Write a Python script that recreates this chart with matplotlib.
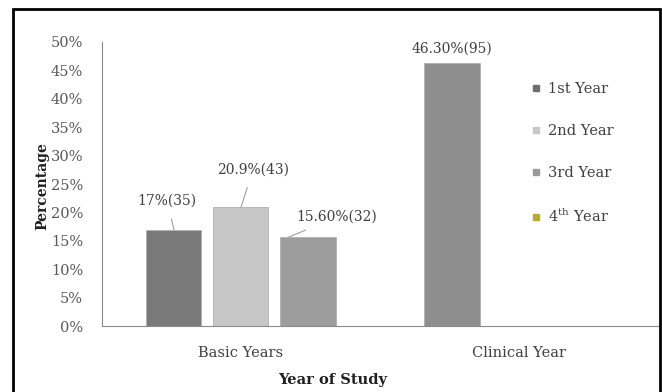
import matplotlib
matplotlib.use("Agg")
import matplotlib.pyplot as plt
import numpy as np
from matplotlib.lines import Line2D
from matplotlib.patches import Rectangle

# data
categories = ["Basic Years", "Clinical Year"]
series_names = ["1st Year", "2nd Year", "3rd Year"]
series_values = [
    [17.0, 46.3],   # first bar of each group
    [20.9, 0.0],
    [15.6, 0.0],
]
bar_labels = [
    ["17%(35)", "46.30%(95)"],
    ["20.9%(43)", None],
    ["15.60%(32)", None],
]
legend_names = ["1st Year", "2nd Year", "3rd Year", r"4$^{\mathrm{th}}$ Year"]
yticks = [0, 5, 10, 15, 20, 25, 30, 35, 40, 45, 50]

bar_colors = [["#7a7a7a", "#8e8e8e"], ["#c6c6c6", "#c6c6c6"], ["#9d9d9d", "#9d9d9d"]]
legend_colors = ["#6e6e6e", "#c8c8c8", "#9a9a9a", "#b5a93a"]

plt.rcParams["font.family"] = "DejaVu Serif"
plt.rcParams["mathtext.fontset"] = "dejavuserif"

fig = plt.figure(figsize=(6.62, 3.92), dpi=100)
ax = fig.add_axes([0.154, 0.168, 0.840, 0.725])

x = np.arange(len(categories))
width = 0.198
step = 0.241
for i, vals in enumerate(series_values):
    offs = (i - 1) * step
    for j, v in enumerate(vals):
        if v <= 0:
            continue
        ax.bar(x[j] + offs, v, width, color=bar_colors[i][j],
               edgecolor="#b0b0b0", linewidth=0.6, zorder=2)

# value labels (with leader lines like the original)
ax.annotate(bar_labels[0][0], xy=(x[0] - step, series_values[0][0]),
            xytext=(-0.266, 22.0), ha="center", va="center",
            fontsize=10, color="#404040",
            arrowprops=dict(arrowstyle="-", color="#a0a0a0", lw=0.8,
                            shrinkA=6, shrinkB=0))
ax.annotate(bar_labels[1][0], xy=(x[0], series_values[1][0]),
            xytext=(0.043, 27.5), ha="center", va="center",
            fontsize=10, color="#404040",
            arrowprops=dict(arrowstyle="-", color="#a0a0a0", lw=0.8,
                            shrinkA=6, shrinkB=0))
ax.annotate(bar_labels[2][0], xy=(x[0] + step * 0.7, series_values[2][0]),
            xytext=(0.345, 19.2), ha="center", va="center",
            fontsize=10, color="#404040",
            arrowprops=dict(arrowstyle="-", color="#a0a0a0", lw=0.8,
                            shrinkA=6, shrinkB=0))
ax.text(x[1] - step, 48.9, bar_labels[0][1], ha="center", va="center",
        fontsize=10, color="#404040")

ax.set_xlim(-0.5, 1.5)
ax.set_ylim(0, 50)
ax.set_yticks(yticks)
ax.set_yticklabels([f"{t}%" for t in yticks])
ax.set_xticks(x)
ax.set_xticklabels(categories)
ax.tick_params(axis="y", length=0, pad=13.5, labelsize=10.5, labelcolor="#595959")
ax.tick_params(axis="x", length=0, pad=14, labelsize=10.5, labelcolor="#404040")

for s in ["top", "right"]:
    ax.spines[s].set_visible(False)
ax.spines["left"].set_color("#8a8a8a")
ax.spines["bottom"].set_color("#8a8a8a")

fig.text(0.064, 0.525, "Percentage", rotation=90, ha="center", va="center",
         fontsize=10, fontweight="bold", color="#202020")
fig.text(0.503, 0.03, "Year of Study", ha="center", va="center",
         fontsize=10.5, fontweight="bold", color="#202020")

handles = [Line2D([0], [0], marker="s", linestyle="none", markersize=5,
                  markerfacecolor=c, markeredgecolor=c) for c in legend_colors]
leg = fig.legend(handles, legend_names, loc="upper left",
                 bbox_to_anchor=(0.795, 0.805), frameon=False,
                 fontsize=10.5, labelspacing=1.9, handlelength=0.6,
                 handletextpad=0.5, borderaxespad=0)
for t in leg.get_texts():
    t.set_color("#404040")

# outer black frame
fig.patches.append(Rectangle((0.0196, -0.05), 0.978, 1.027, transform=fig.transFigure,
                             fill=False, edgecolor="black", linewidth=2))

fig.savefig("out.png", dpi=100)
